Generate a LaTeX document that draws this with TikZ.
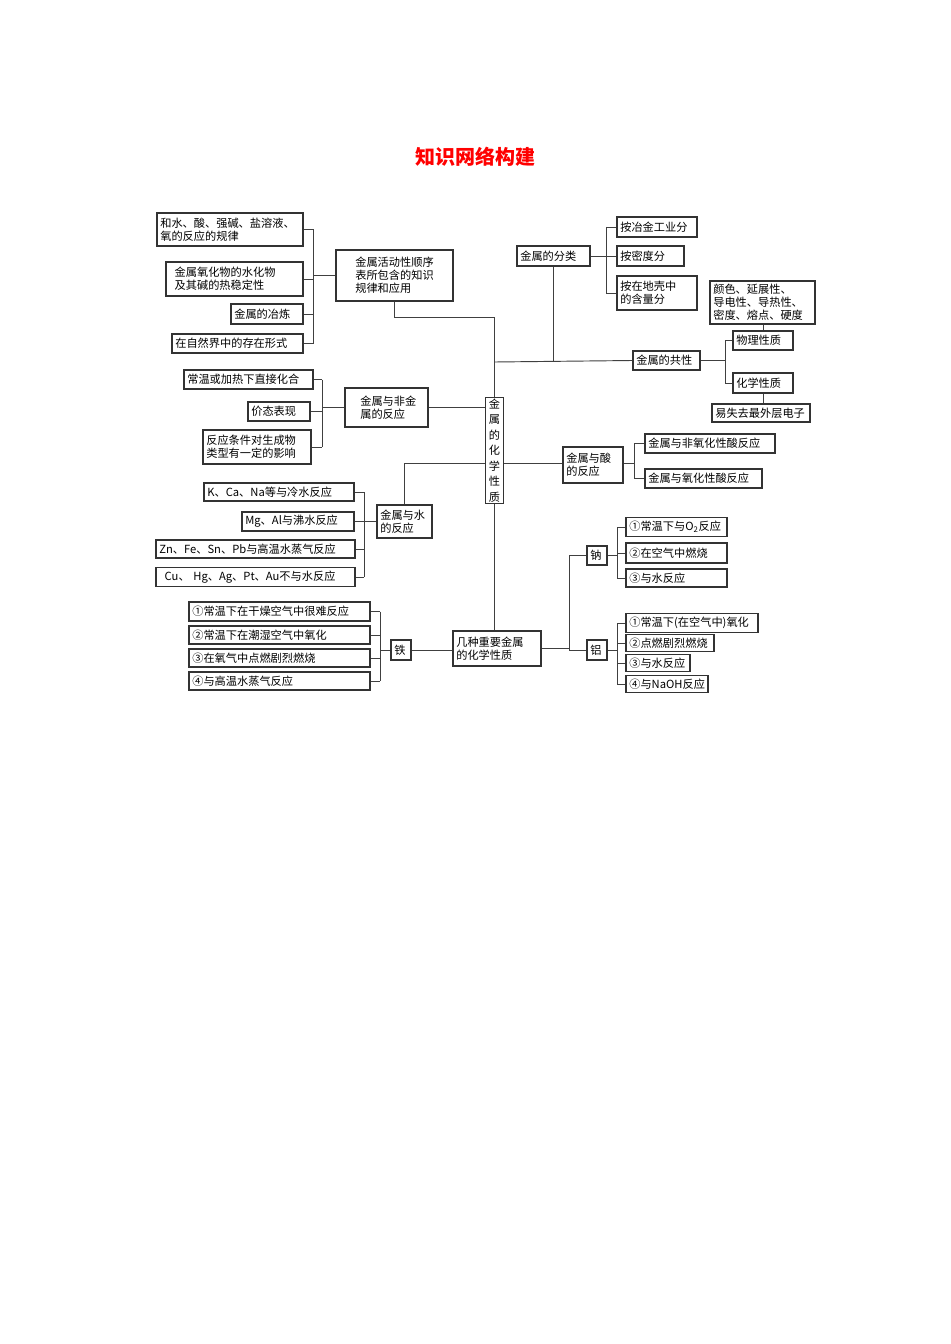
\documentclass[tikz,border=0pt]{standalone}
\usepackage{fontspec}
\setmainfont{Noto Sans CJK SC}
\newcommand\bx[6]{\node[box,minimum width={(#4-#2)*0.75pt},minimum height={(#5-#3)*0.75pt},text width={(#4-#2)*0.75pt-5pt}] (#1) at ({(#2+#4)/2},{(#3+#5)/2}) {#6};}
\tikzset{box/.style={draw=black!80,line width=0.8pt,inner sep=2.5pt,align=left,font=\fontsize{8.4}{9.6}\selectfont},
ln/.style={draw=black!75,line width=0.7pt}}
\begin{document}
\begin{tikzpicture}[x=0.75pt,y=-0.75pt]
\fill[white] (0,0) rectangle (950,1344);
\node[text=red,font=\fontsize{15}{18}\selectfont\bfseries] (title) at (475,157) {知识网络构建};
% left top
\bx{A1}{157}{213}{303}{246}{和水、酸、强碱、盐溶液、\\氧的反应的规律}
\bx{A2}{166}{262}{303}{296}{\hspace{4pt}金属氧化物的水化物\\\hspace*{4pt}及其碱的热稳定性}
\bx{A3}{231}{304}{303}{324}{金属的冶炼}
\bx{A4}{172}{334}{303}{353}{在自然界中的存在形式}
\bx{B1}{336}{250}{453}{301}{\hspace*{12pt}金属活动性顺序\\\hspace*{12pt}表所包含的知识\\\hspace*{12pt}规律和应用}
% nonmetal
\bx{N1}{184}{370}{313}{389}{常温或加热下直接化合}
\bx{N2}{248}{402}{310}{421}{价态表现}
\bx{N3}{203}{430}{311}{464}{反应条件对生成物\\类型有一定的影响}
\bx{B2}{345}{388}{428}{427}{\hspace*{9pt}金属与非金\\\hspace*{9pt}属的反应}
% center
\node[box,font=\fontsize{8.4}{11.6}\selectfont,align=center,minimum width=14pt,minimum height={103*0.75pt},inner sep=1pt] (C) at (494.5,450.5) {金\\属\\的\\化\\学\\性\\质};
% water
\bx{W1}{204}{483}{354}{501}{K、Ca、Na等与冷水反应}
\bx{W2}{242}{512}{354}{531}{Mg、Al与沸水反应}
\bx{W3}{156}{540}{355}{558}{Zn、Fe、Sn、Pb与高温水蒸气反应}
\bx{W4}{156}{568}{355}{586}{\hspace*{4pt}Cu、 Hg、Ag、Pt、Au不与水反应}
\bx{B3}{377}{505}{432}{538}{金属与水\\的反应}
% iron
\bx{I1}{189}{602}{370}{621}{①常温下在干燥空气中很难反应}
\bx{I2}{189}{626}{370}{644}{②常温下在潮湿空气中氧化}
\bx{I3}{189}{649}{370}{667}{③在氧气中点燃剧烈燃烧}
\bx{I4}{189}{672}{370}{690}{④与高温水蒸气反应}
\bx{Fe}{391}{640}{411}{660}{铁}
\bx{B4}{453}{631}{541}{666}{几种重要金属\\的化学性质}
\bx{Na}{587}{546}{607}{565}{钠}
\bx{Al}{587}{640}{607}{660}{铝}
\bx{S1}{626}{518}{727}{536}{①常温下与O\textsubscript{2}反应}
\bx{S2}{626}{543}{727}{563}{②在空气中燃烧}
\bx{S3}{626}{569}{727}{587}{③与水反应}
\bx{L1}{626}{615}{758}{631}{①常温下(在空气中)氧化}
\bx{L2}{626}{635}{714}{651}{②点燃剧烈燃烧}
\bx{L3}{626}{655}{690}{671}{③与水反应}
\bx{L4}{626}{676}{708}{692}{④与NaOH反应}
% right
\bx{K}{517}{246}{590}{266}{金属的分类}
\bx{K1}{617}{217}{697}{237}{按冶金工业分}
\bx{K2}{617}{246}{684}{266}{按密度分}
\bx{K3}{617}{276}{697}{310}{按在地壳中\\的含量分}
\bx{G}{633}{351}{700}{370}{金属的共性}
\bx{P}{733}{331}{793}{350}{物理性质}
\bx{Q}{733}{373}{793}{393}{化学性质}
\bx{PP}{710}{281}{815}{324}{颜色、延展性、\\导电性、导热性、\\密度、熔点、硬度}
\bx{QQ}{712}{404}{810}{422}{易失去最外层电子}
\bx{B5}{563}{447}{623}{483}{金属与酸\\的反应}
\bx{H1}{645}{434}{775}{453}{金属与非氧化性酸反应}
\bx{H2}{645}{469}{762}{488}{金属与氧化性酸反应}
% bracket coordinates
\coordinate (bA) at (313,0);
\coordinate (bN) at (322,0);
\coordinate (bW) at (364,0);
\coordinate (bI) at (380,0);
\coordinate (bM) at (569,0);
\coordinate (bS) at (617,0);
\coordinate (bK) at (606,0);
\coordinate (bG) at (725,0);
\coordinate (bH) at (634,0);
\coordinate (sp) at (494.5,317);
\coordinate (sg) at (494.5,362);
\coordinate (sw) at (494.5,463);
% connectors
\foreach \c in {A1,A2,A3,A4} \draw[ln] (\c.east) -- (\c.east -| bA);
\draw[ln] (A1.east -| bA) -- (A4.east -| bA);
\draw[ln] (bA |- B1.west) -- (B1.west);
\draw[ln] (B1.south) |- (sp) -- (sp |- C.north);
\foreach \c in {N1,N2,N3} \draw[ln] (\c.east) -- (\c.east -| bN);
\draw[ln] (N1.east -| bN) -- (N3.east -| bN);
\draw[ln] (bN |- B2.west) -- (B2.west);
\draw[ln] (B2.east) -- (B2.east -| C.west);
\foreach \c in {W1,W2,W3,W4} \draw[ln] (\c.east) -- (\c.east -| bW);
\draw[ln] (W1.east -| bW) -- (W4.east -| bW);
\draw[ln] (bW |- B3.west) -- (B3.west);
\draw[ln] (B3.north) |- (sw -| C.west);
\foreach \c in {I1,I2,I3,I4} \draw[ln] (\c.east) -- (\c.east -| bI);
\draw[ln] (I1.east -| bI) -- (I4.east -| bI);
\draw[ln] (bI |- Fe.west) -- (Fe.west);
\draw[ln] (Fe.east) -- (Fe.east -| B4.west);
\draw[ln] (C.south) -- (C.south |- B4.north);
\draw[ln] (B4.east) -- (B4.east -| bM);
\draw[ln] (bM |- Na.west) -- (bM |- Al.west);
\draw[ln] (bM |- Na.west) -- (Na.west);
\draw[ln] (bM |- Al.west) -- (Al.west);
\foreach \c in {S1,S2,S3} \draw[ln] (\c.west) -- (\c.west -| bS);
\draw[ln] (S1.west -| bS) -- (S3.west -| bS);
\draw[ln] (Na.east) -- (Na.east -| bS);
\foreach \c in {L1,L2,L3,L4} \draw[ln] (\c.west) -- (\c.west -| bS);
\draw[ln] (L1.west -| bS) -- (L4.west -| bS);
\draw[ln] (Al.east) -- (Al.east -| bS);
\draw[ln] (sg) -- (G.west);
\draw[ln] (K.south) -- (K.south |- sg);
\draw[ln] (K.east) -- (K2.west);
\foreach \c in {K1,K3} \draw[ln] (\c.west) -- (\c.west -| bK);
\draw[ln] (K1.west -| bK) -- (K3.west -| bK);
\draw[ln] (G.east) -- (G.east -| bG);
\draw[ln] (P.west) -| (bG |- Q.west) -- (Q.west);
\draw[ln] (PP.south -| P.north) -- (P.north);
\draw[ln] (QQ.north -| Q.south) -- (Q.south);
\draw[ln] (sw -| C.east) -- (sw -| B5.west);
\draw[ln] (B5.east |- sw) -- (bH |- sw);
\foreach \c in {H1,H2} \draw[ln] (\c.west) -- (\c.west -| bH);
\draw[ln] (H1.west -| bH) -- (H2.west -| bH);
\end{tikzpicture}
\end{document}
